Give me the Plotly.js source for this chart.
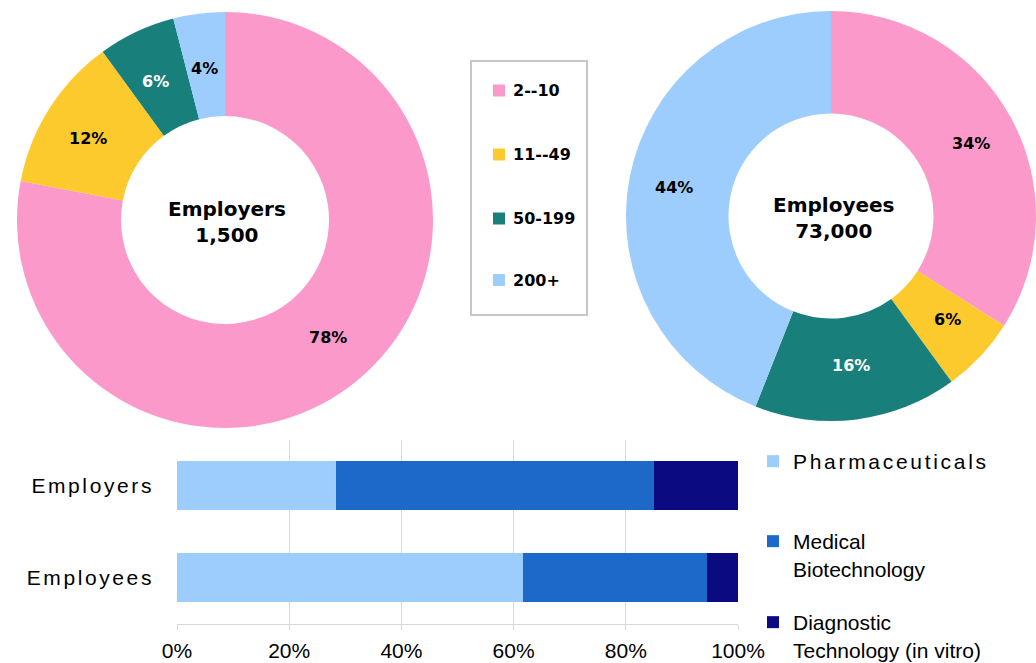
<!DOCTYPE html>
<html>
<head>
<meta charset="utf-8">
<script src="https://cdn.plot.ly/plotly-3.0.1.min.js"></script>
<style>
  html, body { margin: 0; padding: 0; background: #ffffff; overflow: hidden; }
  #chart { width: 1036px; height: 663px; }
  text.legendtext, text.legendtext tspan { letter-spacing: 2.7px !important; }
  .ytick text { letter-spacing: 2.6px; }
</style>
</head>
<body>
<div id="chart"></div>
<script>
// ---- Data ----
const sizeLabels = ['2--10', '11--49', '50-199', '200+'];
const sizeColors = ['#FC99CB', '#FCCA2C', '#187F7B', '#9DCDFC'];
const sizeTextColors = ['#000000', '#000000', '#ffffff', '#000000'];
const employerShares = [78, 12, 6, 4];
const employeeShares = [34, 6, 16, 44];
const donutTitles = ['Employers', 'Employees'];
const donutTotals = [1500, 73000];

const barCategories = ['Employers', 'Employees'];
const sectorNames = ['Pharmaceuticals', 'Medical<br>Biotechnology', 'Diagnostic<br>Technology (in vitro)'];
const sectorColors = ['#9DCDFC', '#1D69C9', '#0C0A80'];
const pharmaceuticals = [28.3, 61.6];
const medicalBiotech = [56.8, 32.9];
const diagnosticTech = [14.9, 5.5];
const xTickValues = [0, 20, 40, 60, 80, 100];

// ---- Helpers ----
const W = 1036, H = 663;
const px = x => x / W;
const py = y => 1 - y / H;

function donutDomain(cx, cy, r) {
  return { x: [px(cx - r), px(cx + r)], y: [py(cy + r), py(cy - r)] };
}

const boldFont = 'DejaVu Sans, Verdana, sans-serif';
const plainFont = 'Liberation Sans, Arial, sans-serif';

const donutGeom = [
  { cx: 225, cy: 220, r: 208 },
  { cx: 831, cy: 216, r: 205 }
];
const HOLE = 0.5;

function donutTrace(values, g) {
  return {
    type: 'pie',
    labels: sizeLabels,
    values: values,
    sort: false,
    direction: 'clockwise',
    rotation: 0,
    hole: HOLE,
    domain: donutDomain(g.cx, g.cy, g.r),
    marker: { colors: sizeColors, line: { width: 0 } },
    textinfo: 'none',
    showlegend: false,
    hoverinfo: 'label+percent'
  };
}

const donutData = [employerShares, employeeShares];
const traces = donutData.map((vals, i) => donutTrace(vals, donutGeom[i]));

const barSeries = [pharmaceuticals, medicalBiotech, diagnosticTech];
const legendTops = [441, 521, 602];
barSeries.forEach((vals, i) => {
  traces.push({
    type: 'bar',
    orientation: 'h',
    name: sectorNames[i],
    y: barCategories,
    x: vals,
    marker: { color: sectorColors[i], line: { width: 0 } },
    xaxis: 'x',
    yaxis: 'y',
    legend: i === 0 ? 'legend' : 'legend' + (i + 1),
    hovertemplate: '%{y}: %{x}%<extra>' + sectorNames[i].replace('<br>', ' ') + '</extra>'
  });
});

// ---- Annotations ----
const annotations = [];
donutGeom.forEach((g, i) => {
  annotations.push({
    xref: 'paper', yref: 'paper',
    x: px(g.cx + 2), y: py(g.cy + 2),
    text: donutTitles[i] + '<br>' + donutTotals[i].toLocaleString('en-US'),
    showarrow: false,
    font: { family: boldFont, size: 20, weight: 'bold', color: '#000' },
    xanchor: 'center', yanchor: 'middle'
  });
  // percentage labels at the middle of the ring, derived from the shares
  const vals = donutData[i];
  const total = vals.reduce((a, b) => a + b, 0);
  const rMid = g.r * (1 + HOLE) / 2;
  let cum = 0;
  vals.forEach((v, k) => {
    const mid = (cum + v / 2) / total * 2 * Math.PI;
    cum += v;
    const lx = g.cx + rMid * 1.04 * Math.sin(mid);
    const ly = g.cy - rMid * 0.98 * Math.cos(mid);
    annotations.push({
      xref: 'paper', yref: 'paper',
      x: px(lx), y: py(ly),
      text: Math.round(v / total * 100) + '%',
      showarrow: false,
      xanchor: 'center', yanchor: 'middle',
      font: { family: boldFont, size: 16, weight: 'bold', color: sizeTextColors[k] }
    });
  });
});

const shapes = [{
  type: 'rect', xref: 'paper', yref: 'paper',
  x0: px(471), x1: px(587), y0: py(315), y1: py(61),
  line: { color: '#C6C6C6', width: 2 }, fillcolor: 'rgba(0,0,0,0)'
}];
const legendRowY = [90.5, 154.5, 218.5, 280];
sizeLabels.forEach((lab, i) => {
  const yc = legendRowY[i];
  shapes.push({
    type: 'rect', xref: 'paper', yref: 'paper',
    x0: px(493), x1: px(505), y0: py(yc + 6), y1: py(yc - 6),
    line: { width: 0 }, fillcolor: sizeColors[i]
  });
  annotations.push({
    xref: 'paper', yref: 'paper',
    x: px(511), y: py(yc),
    text: lab, showarrow: false,
    xanchor: 'left', yanchor: 'middle',
    font: { family: boldFont, size: 16, weight: 'bold', color: '#000' }
  });
});

function barLegend(i) {
  return {
    x: px(753), y: py(legendTops[i]),
    xanchor: 'left', yanchor: 'top',
    bgcolor: 'rgba(0,0,0,0)', borderwidth: 0,
    valign: 'top',
    font: { family: plainFont, size: 21, color: '#000' }
  };
}

const layout = {
  width: W, height: H,
  margin: { l: 0, r: 0, t: 0, b: 0, autoexpand: false },
  paper_bgcolor: '#ffffff',
  plot_bgcolor: '#ffffff',
  barmode: 'stack',
  bargap: 0.465,
  xaxis: {
    domain: [px(177), px(738)],
    range: [0, 100],
    tickvals: xTickValues,
    ticktext: xTickValues.map(v => v + '%'),
    showgrid: true, gridcolor: '#D9D9D9', gridwidth: 1,
    zeroline: false,
    showline: true, linecolor: '#D9D9D9', linewidth: 1,
    ticks: 'outside', ticklen: 5, tickcolor: '#D9D9D9',
    ticklabelstandoff: 3,
    tickfont: { family: plainFont, size: 21, color: '#000' },
    automargin: false,
    fixedrange: true
  },
  yaxis: {
    domain: [py(623.5), py(439.5)],
    autorange: 'reversed',
    type: 'category',
    showgrid: false, zeroline: false, showline: false,
    ticks: '',
    ticklabelstandoff: 22,
    tickfont: { family: plainFont, size: 21, color: '#000' },
    automargin: false,
    fixedrange: true
  },
  showlegend: true,
  legend: barLegend(0),
  legend2: barLegend(1),
  legend3: barLegend(2),
  annotations: annotations,
  shapes: shapes
};

Plotly.newPlot('chart', traces, layout, { displayModeBar: false, staticPlot: true }).then(gd => {
  // spread the legend lettering like the original, and keep it unclipped
  gd.querySelectorAll('text.legendtext, text.legendtext tspan').forEach(el => {
    el.setAttribute('letter-spacing', '2.7');
    el.style.letterSpacing = '2.7px';
  });
  gd.querySelectorAll('.infolayer g.scrollbox').forEach(el => el.removeAttribute('clip-path'));
});
</script>
</body>
</html>
